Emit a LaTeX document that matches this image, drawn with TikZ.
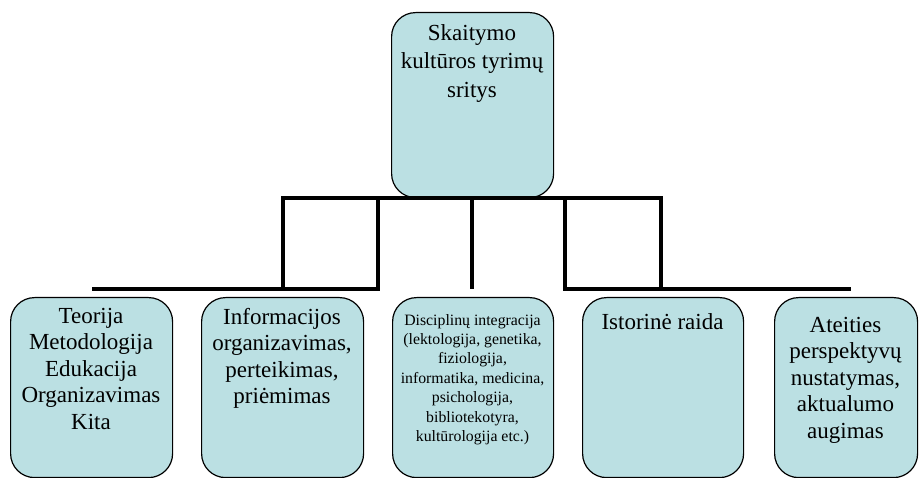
\documentclass[tikz,border=0pt]{standalone}
\usepackage{fontspec}
\setmainfont{Liberation Serif}
\definecolor{boxfill}{RGB}{187,224,227}
\tikzset{
  box/.style={draw=black, line width=1.2pt, fill=boxfill, rounded corners=24pt,
    rectangle, inner sep=0pt, anchor=north west},
  txt/.style={anchor=north, align=center, inner sep=0pt},
  bigfont/.style={font=\fontsize{23}{26.5}\selectfont},
  smallfont/.style={font=\fontsize{15.8}{19.4}\selectfont},
  conn/.style={draw=black, line width=4pt, line join=miter}
}
\begin{document}
\begin{tikzpicture}[x=1pt,y=-1pt]
\useasboundingbox (0,0) rectangle (922,478);
% boxes
\node[box, minimum width=162pt, minimum height=185pt] (top) at (391,12) {};
\node[box, minimum width=162pt, minimum height=180pt] (b1) at (10,297) {};
\node[box, minimum width=162pt, minimum height=180pt] (b2) at (201,297) {};
\node[box, minimum width=161pt, minimum height=180pt] (b3) at (392,297) {};
\node[box, minimum width=161pt, minimum height=180pt] (b4) at (582,297) {};
\node[box, minimum width=143pt, minimum height=180pt] (b5) at (774,297) {};
% texts
\node[txt, font=\fontsize{23}{28.5}\selectfont] (topt) at (472,24) {Skaitymo\\kultūros tyrimų\\sritys};
\node[txt, bigfont] (t1) at (91,308) {Teorija\\Metodologija\\Edukacija\\Organizavimas\\Kita};
\node[txt, bigfont] (t2) at (282,308) {Informacijos\\organizavimas,\\perteikimas,\\priėmimas};
\node[txt, smallfont] (t3) at (472.5,314) {Disciplinų integracija\\(lektologija, genetika,\\fiziologija,\\informatika, medicina,\\psichologija,\\bibliotekotyra,\\kultūrologija etc.)};
\node[txt, bigfont] (t4) at (662.5,313) {Istorinė raida};
\node[txt, bigfont] (t5) at (845.5,317) {Ateities\\perspektyvų\\nustatymas,\\aktualumo\\augimas};
% connector points
\coordinate (v1b) at (283,289);
\coordinate (v1t) at (283,198);
\coordinate (v2b) at (378,289);
\coordinate (v2t) at (378,198);
\coordinate (v3t) at (472,198);
\coordinate (v3b) at (472,289);
\coordinate (v4t) at (565,198);
\coordinate (v4b) at (565,289);
\coordinate (v5t) at (661,198);
\coordinate (v5b) at (661,289);
\coordinate (hl) at (92,289);
\coordinate (hr) at (851,289);
% connectors
\draw[conn] (v1b) -- (v1t) -- (v5t) -- (v5b);
\draw[conn] (hl) -- (v2b) -- (v2t);
\draw[conn] (v3t) -- (v3b);
\draw[conn] (v4t) -- (v4b) -- (hr);
\end{tikzpicture}
\end{document}
